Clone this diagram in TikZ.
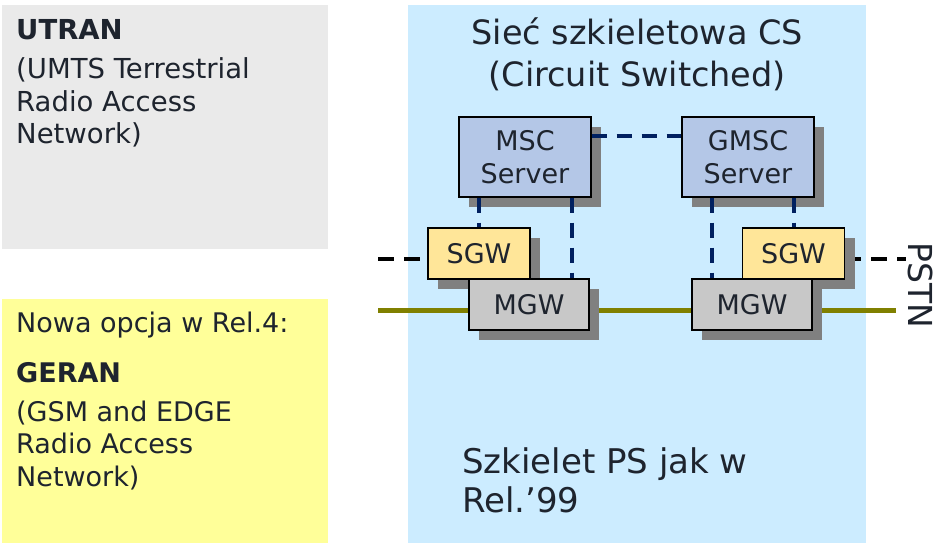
\documentclass[tikz,border=0pt]{standalone}
\usepackage{fontspec}
\setmainfont{DejaVu Sans}
\usepackage{xcolor}
\usetikzlibrary{shadows, positioning, calc}
\definecolor{ink}{RGB}{30, 36, 46}
\definecolor{utranfill}{RGB}{234, 234, 234}
\definecolor{geranfill}{RGB}{255, 255, 153}
\definecolor{corefill}{RGB}{204, 236, 255}
\definecolor{srvblue}{RGB}{180, 199, 231}
\definecolor{sgwyellow}{RGB}{255, 230, 153}
\definecolor{mgwgray}{RGB}{200, 200, 200}
\definecolor{shade}{RGB}{128, 128, 128}
\definecolor{navy}{RGB}{0, 32, 96}
\definecolor{bearerolive}{RGB}{128, 128, 0}
\newcommand\fsSide{\fontsize{27.5pt}{32.5pt}\selectfont}
\newcommand\fsGeran{\fontsize{27pt}{32.5pt}\selectfont}
\newcommand\fsCore{\fontsize{33.5pt}{42pt}\selectfont}
\newcommand\fsPs{\fontsize{34pt}{39pt}\selectfont}
\newcommand\fsUnit{\fontsize{27pt}{33pt}\selectfont}
\newcommand\fsPstn{\fontsize{33pt}{36pt}\selectfont}
\pgfdeclarelayer{bg}
\pgfdeclarelayer{wires}
\pgfsetlayers{bg,wires,main}

\begin{document}
\begin{tikzpicture}[x=1pt, y=-1pt, text=ink,
    area/.style={draw=none, anchor=north west, inner sep=0pt},
    label/.style={anchor=north west, inner sep=0pt, align=left},
    unit/.style={draw=black, line width=1.3pt, inner sep=0pt, align=center, font=\fsUnit,
        general shadow={fill=shade, shadow xshift=10pt, shadow yshift=-10pt}},
    server/.style={unit, fill=srvblue, minimum width=132pt, minimum height=80pt},
    sgw/.style={unit, fill=sgwyellow, minimum width=102pt, minimum height=51pt},
    mgw/.style={unit, fill=mgwgray, minimum width=120pt, minimum height=51pt},
    ctrl/.style={draw=navy, line width=4pt, dash pattern=on 15pt off 10pt},
    sig/.style={draw=black, line width=4.5pt, dash pattern=on 16pt off 10pt},
    bearer/.style={draw=bearerolive, line width=5pt}
]
    \useasboundingbox (0,0) rectangle (942,552);

    % Regions
    \begin{pgfonlayer}{bg}
        \node[area, fill=utranfill, minimum width=326pt, minimum height=244pt] (utran) at (2,5) {};
        \node[area, fill=geranfill, minimum width=326pt, minimum height=244pt] (geran) at (2,299) {};
        \node[area, fill=corefill, minimum width=458pt, minimum height=538pt] (core) at (408,5) {};
    \end{pgfonlayer}

    % Texts
    \node[label, font=\fsSide] (utranText) at (16,19)
        {\textbf{UTRAN}\\[7pt](UMTS Terrestrial\\Radio Access\\Network)};
    \node[label, font=\fsGeran] (geranText) at (16,311.5)
        {Nowa opcja w Rel.4:\\[17.5pt]\textbf{GERAN}\\[6.5pt](GSM and EDGE\\Radio Access\\Network)};
    \node[anchor=north, inner sep=0pt, align=center, font=\fsCore] (coreText) at (core.north |- 0,17.5)
        {Sieć szkieletowa CS\\(Circuit Switched)};
    \node[label, font=\fsPs] (psText) at (462,447) {Szkielet PS jak w\\Rel.’99};
    \node[rotate=-90, inner sep=0pt, font=\fsPstn] (pstn) at (921,285) {PSTN};

    % Network elements
    \node[server] (msc) at (525,157) {MSC\\Server};
    \node[server] (gmsc) at (748,157) {GMSC\\Server};
    \node[sgw] (sgwL) at (479,253.5) {SGW};
    \node[mgw] (mgwL) at (529,304.5) {MGW};
    \node[sgw] (sgwR) at (793.5,253.5) {SGW};
    \node[mgw] (mgwR) at (752,304.5) {MGW};

    % Bearer and signalling lines
    \coordinate (bearerL) at (378,310);
    \coordinate (bearerR) at (896,310);
    \coordinate (sigL) at (378,259);
    \coordinate (sigR) at (906,259);
    \begin{pgfonlayer}{wires}
        \draw[bearer] (bearerL) -- (bearerR);
        \draw[sig] (sigL) -- (sigL -| sgwL.west);
        \draw[sig] (sgwR.east |- sigR) -- (sigR);
    \end{pgfonlayer}

    % Control links
    \draw[ctrl] ([yshift=-20pt]msc.north east) -- ([yshift=-20pt]gmsc.north west);
    \draw[ctrl] (msc.south -| sgwL.north) -- (sgwL.north);
    \draw[ctrl] ([xshift=-18pt]mgwL.north east |- msc.south) -- ([xshift=-18pt]mgwL.north east);
    \draw[ctrl] ([xshift=21pt]mgwR.north west |- gmsc.south) -- ([xshift=21pt]mgwR.north west);
    \draw[ctrl] (gmsc.south -| sgwR.north) -- (sgwR.north);
\end{tikzpicture}
\end{document}
